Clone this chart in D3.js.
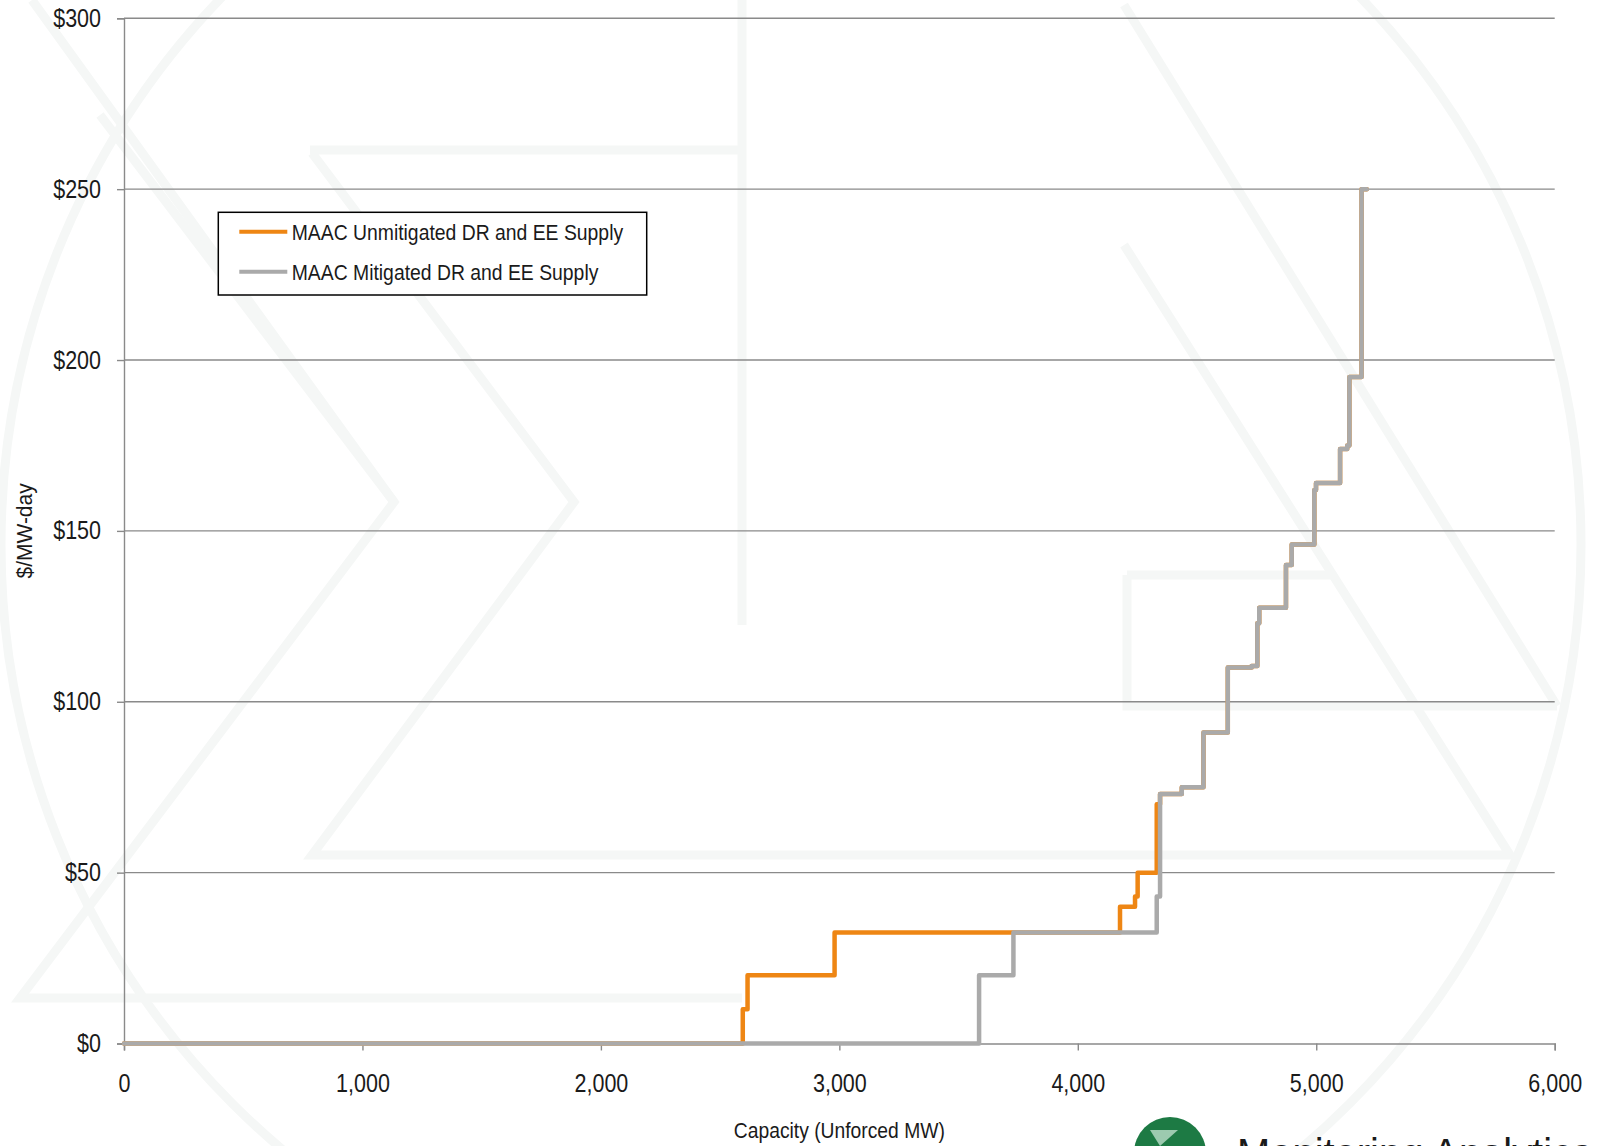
<!DOCTYPE html>
<html>
<head>
<meta charset="utf-8">
<script src="https://cdn.jsdelivr.net/npm/d3@7"></script>
<style>
  body { margin: 0; background: #fff; }
  svg text { font-family: "Liberation Sans Narrow", "Arial Narrow", "Liberation Sans", sans-serif; fill: #1a1a1a; }
</style>
</head>
<body>
<div id="container"></div>
<script>
/* CONSTANTS AND GLOBALS */
const width = 1606,
  height = 1146,
  margin = { top: 18.3, bottom: 102.5, left: 124, right: 51.3 }

// MAAC unmitigated DR and EE supply (step curve: price holds until next capacity point)
const unmitCapacity = [0, 2595, 2615, 2980, 4177, 4240, 4251, 4331, 4345, 4436, 4527, 4629, 4729, 4753, 4761, 4873, 4897, 4992, 4999, 5100, 5130, 5139, 5190, 5212]
const unmitPrice    = [0, 10,   20,   32.5, 40,   43,   50,   70,   73,   75,   91,   110,  110.5, 123, 127.5, 140,  146,  162,  164,  174,  175,  195,  250,  250]

// MAAC mitigated DR and EE supply
const mitCapacity = [0, 3586, 3730, 4331, 4345, 4436, 4527, 4629, 4729, 4753, 4761, 4873, 4897, 4992, 4999, 5100, 5130, 5139, 5190, 5212]
const mitPrice    = [0, 20,   32.5, 43,   73,   75,   91,   110,  110.5, 123, 127.5, 140,  146,  162,  164,  174,  175,  195,  250,  250]

const xTicks = [0, 1000, 2000, 3000, 4000, 5000, 6000]
const yTicks = [0, 50, 100, 150, 200, 250, 300]

const seriesNames = ["MAAC Unmitigated DR and EE Supply", "MAAC Mitigated DR and EE Supply"]
const seriesColors = ["#ee8614", "#aaaaaa"]

const toPoints = (caps, prices) => caps.map((c, i) => ({ cap: c, price: prices[i] }))
const series = [
  { name: seriesNames[0], color: seriesColors[0], values: toPoints(unmitCapacity, unmitPrice) },
  { name: seriesNames[1], color: seriesColors[1], values: toPoints(mitCapacity, mitPrice) }
]

// squeeze text horizontally to mimic a narrow font (no Arial Narrow installed)
const narrow = (sel, f) => sel.each(function () {
  const len = this.getComputedTextLength()
  d3.select(this).attr("textLength", len * f).attr("lengthAdjust", "spacingAndGlyphs")
})

/* SCALES */
const xScale = d3.scaleLinear()
  .domain([0, 6000])
  .range([margin.left, width - margin.right])

const yScale = d3.scaleLinear()
  .domain([0, 300])
  .range([height - margin.bottom, margin.top])

/* SVG */
const svg = d3.select("#container")
  .append("svg")
  .attr("width", width)
  .attr("height", height)

// faint background watermark (company logo pattern)
const wm = svg.append("g")
  .attr("fill", "none")
  .attr("stroke", "#f5f7f6")
  .attr("stroke-width", 9)
wm.append("circle").attr("cx", 791).attr("cy", 545).attr("r", 790)
const wmPaths = [
  "M 32 0 L 394 502 L 20 998 L 742 998",
  "M 100 115 L 394 502",
  "M 742 0 L 742 625",
  "M 310 150 L 742 150",
  "M 312 153 L 574 502 L 312 855 L 742 855",
  "M 1124 5 L 1557 706",
  "M 1124 245 L 1510 855 L 742 855",
  "M 1127 575 L 1332 575 M 1127 575 L 1127 706 L 1557 706"
]
wm.selectAll("path.wm")
  .data(wmPaths)
  .join("path")
  .attr("class", "wm")
  .attr("d", d => d)

// GRIDLINES
svg.append("g")
  .attr("class", "grid")
  .selectAll("line")
  .data(yTicks.filter(d => d > 0))
  .join("line")
  .attr("x1", margin.left)
  .attr("x2", width - margin.right)
  .attr("y1", d => yScale(d))
  .attr("y2", d => yScale(d))
  .attr("stroke", "#8a8a8a")
  .attr("stroke-width", 1.4)

// AXES
const xAxis = d3.axisBottom(xScale)
  .tickValues(xTicks)
  .tickFormat(d3.format(","))
  .tickSize(7)
  .tickPadding(24)

const xAxisGroup = svg.append("g")
  .attr("class", "xAxis")
  .attr("transform", `translate(0, ${yScale(0)})`)
  .call(xAxis)

const yAxis = d3.axisLeft(yScale)
  .tickValues(yTicks)
  .tickFormat(d => "$" + d)
  .tickSize(7)
  .tickPadding(16)

const yAxisGroup = svg.append("g")
  .attr("class", "yAxis")
  .attr("transform", `translate(${margin.left}, 0)`)
  .call(yAxis)

svg.selectAll(".xAxis path, .yAxis path, .xAxis line, .yAxis line")
  .attr("stroke", "#8a8a8a")
  .attr("stroke-width", 1.4)
svg.selectAll(".xAxis .tick text, .yAxis .tick text")
  .style("font-size", "25px")
  .attr("fill", "#1a1a1a")
  .call(narrow, 0.86)

xAxisGroup.append("text")
  .attr("class", "xLabel")
  .text("Capacity (Unforced MW)")
  .attr("text-anchor", "middle")
  .attr("x", (margin.left + width - margin.right) / 2)
  .attr("y", 1138 - yScale(0))
  .style("font-size", "22px")
  .attr("fill", "#1a1a1a")
  .attr("textLength", 211)
  .attr("lengthAdjust", "spacingAndGlyphs")

yAxisGroup.append("text")
  .attr("class", "yLabel")
  .attr("transform", "rotate(-90)")
  .attr("x", -(margin.top + height - margin.bottom) / 2)
  .attr("y", 31.5 - margin.left)
  .text("$/MW-day")
  .attr("text-anchor", "middle")
  .style("font-size", "22px")
  .attr("fill", "#1a1a1a")
  .attr("textLength", 95)
  .attr("lengthAdjust", "spacingAndGlyphs")

// LINE GENERATOR FUNCTION
const lineGen = d3.line()
  .curve(d3.curveStepAfter)
  .x(d => xScale(d.cap))
  .y(d => yScale(d.price))

// DRAW LINES
svg.selectAll(".line")
  .data(series)
  .join("path")
  .attr("class", "line")
  .attr("fill", "none")
  .attr("stroke", d => d.color)
  .attr("stroke-width", 4.5)
  .attr("stroke-linejoin", "round")
  .attr("stroke-linecap", "round")
  .attr("d", d => lineGen(d.values))

// LEGEND
const legend = svg.append("g")
  .attr("class", "legend")
  .attr("transform", "translate(218.3, 212.3)")

legend.append("rect")
  .attr("width", 428.4)
  .attr("height", 82.7)
  .attr("fill", "#fff")
  .attr("stroke", "#000")
  .attr("stroke-width", 1.5)

const items = legend.selectAll(".item")
  .data(series)
  .join("g")
  .attr("class", "item")
  .attr("transform", (d, i) => `translate(0, ${19.4 + i * 40})`)

items.append("line")
  .attr("x1", 21)
  .attr("x2", 69)
  .attr("stroke", d => d.color)
  .attr("stroke-width", 4)

items.append("text")
  .attr("x", 73.4)
  .attr("y", 8)
  .text(d => d.name)
  .style("font-size", "22px")
  .call(narrow, 0.88)

// LOGO (partially cut off at bottom, as in the source figure)
const logo = svg.append("g").attr("class", "logo")
logo.append("circle")
  .attr("cx", 1170)
  .attr("cy", 1153)
  .attr("r", 36)
  .attr("fill", "#1d7a44")
logo.append("path")
  .attr("d", "M 1150 1130 L 1178 1130 L 1160 1146 Z")
  .attr("fill", "#9ccaaf")
logo.append("text")
  .attr("x", 1237)
  .attr("y", 1168)
  .text("Monitoring Analytics")
  .style("font-size", "42px")
  .attr("fill", "#1d7a44")
  .attr("textLength", 355)
  .attr("lengthAdjust", "spacingAndGlyphs")
</script>
</body>
</html>
